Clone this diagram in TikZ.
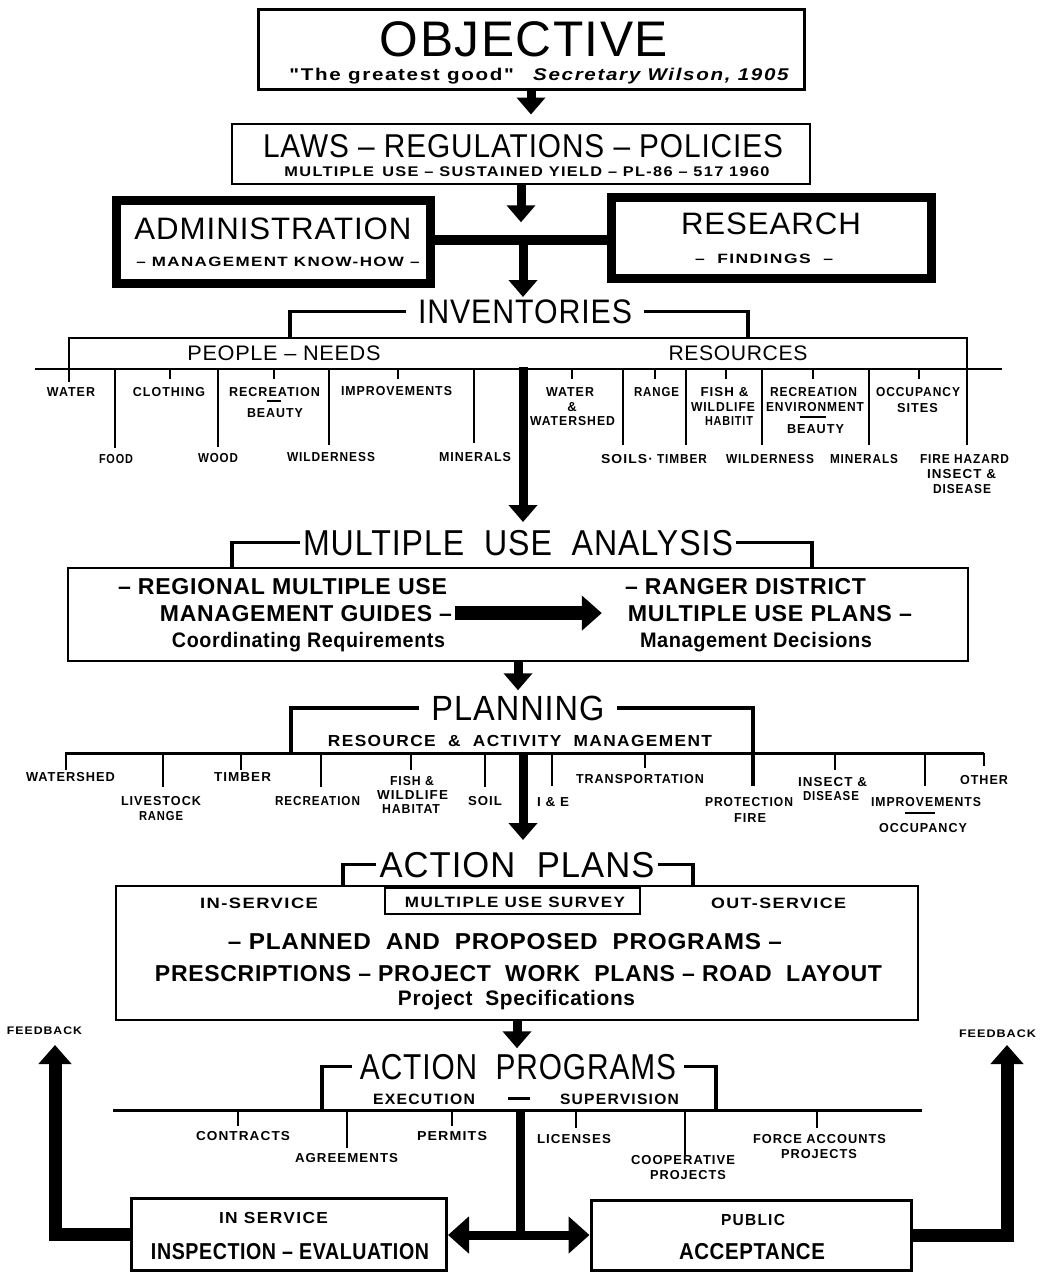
\documentclass[tikz,border=0pt]{standalone}
\usepackage{fontspec}
\usepackage{graphicx}
\setmainfont{Liberation Sans}
\newfontfamily\HD{Liberation Sans}[LetterSpace=3]
\newfontfamily\LB{Liberation Sans}[LetterSpace=8]
\usetikzlibrary{arrows.meta}
\newcommand\FSZ[1]{\fontsize{#1}{#1}\selectfont}
\newcommand\FW[2]{\resizebox{#1pt}{\height}{#2}}
\tikzset{
 hd/.style={anchor=base, inner sep=0pt, font=\HD\FSZ{#1}},
 lb/.style={anchor=base, inner sep=0pt, font=\LB\bfseries\FSZ{#1}},
 mb/.style={anchor=base, inner sep=0pt, font=\HD\bfseries\FSZ{#1}},
 bx/.style={draw, line width=#1, inner sep=0pt},
 ln/.style={line width=2.6pt},
 thin/.style={line width=1.6pt},
 br/.style={line width=3.5pt},
 fat/.style={line width=9pt, -{Triangle[width=28pt,length=17pt]}},
 fbk/.style={line width=13pt, -{Triangle[width=32pt,length=19pt]}},
 hub/.style={line width=9pt, -{Triangle[width=36pt,length=21pt]}},
}
\begin{document}
\begin{tikzpicture}[x=1pt,y=-1pt,line join=miter]
\useasboundingbox (0,0) rectangle (1049,1274);

% ---------------- OBJECTIVE
\node[bx=3pt, minimum width=546pt, minimum height=80pt] (obj) at (531,49) {};
\node[hd=50] (objT) at (524,56) {\FW{288}{OBJECTIVE}};
\node[lb=17] (objS) at (540,80) {\FW{501}{"The greatest good"\hspace{16pt}\textit{Secretary Wilson, 1905}}};
\draw[fat] (obj.south) -- ++(0,24);

% ---------------- LAWS
\node[bx=2.5pt, minimum width=578pt, minimum height=60pt] (laws) at (521,154) {};
\node[hd=33] (lawsT) at (523,157) {\FW{520}{LAWS – REGULATIONS – POLICIES}};
\node[lb=14] (lawsS) at (527,176) {\FW{485}{MULTIPLE\enspace USE – SUSTAINED YIELD – PL-86 – 517 1960}};
\draw[fat] (laws.south) -- ++(0,37);

% ---------------- ADMINISTRATION / RESEARCH
\node[bx=9pt, minimum width=314pt, minimum height=83pt] (adm) at (273,242) {};
\node[hd=31] (admT) at (273,239) {\FW{277}{ADMINISTRATION}};
\node[lb=13.5] (admS) at (278,266) {\FW{283}{– MANAGEMENT KNOW-HOW –}};
\node[bx=9pt, minimum width=320pt, minimum height=81pt] (res) at (771,237.5) {};
\node[hd=31] (resT) at (771,234) {\FW{180}{RESEARCH}};
\node[lb=13.5] (resS) at (764,263) {\FW{138}{–\ \ FINDINGS\ \ –}};
\coordinate (bar) at (523,240);
\draw[line width=10pt] (adm.east |- bar) -- (res.west |- bar);
\draw[fat] (bar) -- ++(0,57);

% ---------------- INVENTORIES
\node[hd=34] (inv) at (525,323) {\FW{214}{INVENTORIES}};
\draw[br] ([xshift=-12pt]inv.west) -| (290,338);
\draw[br] ([xshift=12pt]inv.east) -| (748,338);
\draw[ln] (69,382) |- (967,338) -- (967,445);
\draw[ln] (35,369) -- (1002,369);
\node[hd=21] (pn) at (284,360) {\FW{193}{PEOPLE – NEEDS}};
\node[hd=21] (rs) at (738,360) {\FW{139}{RESOURCES}};
% ticks
\foreach \x in {170,274,398,572,655,726,813,919} \draw[ln] (\x,369) -- (\x,379);
\foreach \x/\y in {115/448,218/447,329/445,474/443,623/445,686/445,762/445,869/445} \draw[ln] (\x,369) -- (\x,\y);
% people labels
\node[lb=13] (iWat) at (71,396) {\FW{48}{WATER}};
\node[lb=13] (iClo) at (169,396) {\FW{72}{CLOTHING}};
\node[lb=13] (iRec) at (274.5,396) {\FW{91}{RECREATION}};
\draw[thin] (267,401) -- (281,401);
\node[lb=13] (iBea) at (275,417) {\FW{56}{BEAUTY}};
\node[lb=13] (iImp) at (396.5,395) {\FW{111}{IMPROVEMENTS}};
\node[lb=13] (iFoo) at (116,463) {\FW{34}{FOOD}};
\node[lb=13] (iWoo) at (218,462) {\FW{40}{WOOD}};
\node[lb=13] (iWil) at (331,461) {\FW{88}{WILDERNESS}};
\node[lb=13] (iMin) at (475,461) {\FW{72}{MINERALS}};
% resource labels
\node[lb=13] (rWat1) at (570,396) {\FW{48}{WATER}};
\node[lb=13] (rWat2) at (572,411) {\&};
\node[lb=13] (rWat3) at (572.5,425) {\FW{85}{WATERSHED}};
\node[lb=13] (rRan) at (656.5,396) {\FW{45}{RANGE}};
\node[lb=13] (rFis1) at (724.5,396) {\FW{48}{FISH \&}};
\node[lb=13] (rFis2) at (723,411) {\FW{64}{WILDLIFE}};
\node[lb=13] (rFis3) at (729,425) {\FW{48}{HABITIT}};
\node[lb=13] (rRec1) at (813.5,396) {\FW{87}{RECREATION}};
\node[lb=13] (rRec2) at (815,411) {\FW{98}{ENVIRONMENT}};
\draw[thin] (800,417) -- (826,417);
\node[lb=13] (rRec3) at (815.5,433) {\FW{57}{BEAUTY}};
\node[lb=13] (rOcc1) at (918,396) {\FW{84}{OCCUPANCY}};
\node[lb=13] (rOcc2) at (917.5,412) {\FW{41}{SITES}};
\node[lb=13] (rSoi) at (627,463) {\FW{52}{SOILS·}};
\node[lb=13] (rTim) at (682,463) {\FW{50}{TIMBER}};
\node[lb=13] (rWil) at (770,463) {\FW{88}{WILDERNESS}};
\node[lb=13] (rMin) at (864,463) {\FW{68}{MINERALS}};
\node[lb=13] (rFir1) at (964.5,463) {\FW{89}{FIRE HAZARD}};
\node[lb=13] (rFir2) at (961.5,478) {\FW{69}{INSECT \&}};
\node[lb=13] (rFir3) at (962,493) {\FW{58}{DISEASE}};
\draw[fat] (523,367) -- (523,522);

% ---------------- MULTIPLE USE ANALYSIS
\node[hd=36] (mua) at (518,555) {\FW{430}{MULTIPLE\ \ USE\ \ ANALYSIS}};
\draw[br] ([xshift=-3pt]mua.west) -| (232,568);
\draw[br] ([xshift=3pt]mua.east) -| (812,568);
\node[bx=2.5pt, minimum width=900pt, minimum height=93pt] (muab) at (518,614.5) {};
\node[mb=23] (mL1) at (282.5,594) {\FW{329}{– REGIONAL MULTIPLE USE}};
\node[mb=23] (mL2) at (306,621) {\FW{292}{MANAGEMENT GUIDES –}};
\node[mb=21] (mL3) at (308.5,647) {\FW{273}{Coordinating Requirements}};
\node[mb=23] (mR1) at (745.5,594) {\FW{241}{– RANGER DISTRICT}};
\node[mb=23] (mR2) at (770,621) {\FW{284}{MULTIPLE USE PLANS –}};
\node[mb=21] (mR3) at (756,647) {\FW{232}{Management Decisions}};
\draw[line width=14pt, -{Triangle[width=34pt,length=20pt]}] ([xshift=3pt]mL2.east) -- ([xshift=-26pt]mR2.west);
\draw[fat] (muab.south) -- ++(0,28);

% ---------------- PLANNING
\node[hd=35] (plan) at (518,720) {\FW{173}{PLANNING}};
\draw[br] ([xshift=-12pt]plan.west) -| (291,753);
\draw[br] ([xshift=12pt]plan.east) -| (753,786);
\node[lb=16] (ram) at (520,746) {\FW{384}{RESOURCE\ \ \&\ \ ACTIVITY\ \ MANAGEMENT}};
\draw[line width=3pt] (65,753) -- (984,753);
\foreach \x/\y in {66/770,163/787,241/770,321/787,411/770,485/787,552/786,645/768,835/770,925/786,984/766} \draw[ln] (\x,753) -- (\x,\y);
\node[lb=13] (pWat) at (70.5,781) {\FW{89}{WATERSHED}};
\node[lb=13] (pLiv1) at (161,805) {\FW{80}{LIVESTOCK}};
\node[lb=13] (pLiv2) at (161,820) {\FW{44}{RANGE}};
\node[lb=13] (pTim) at (242.5,781) {\FW{57}{TIMBER}};
\node[lb=13] (pRec) at (317.5,805) {\FW{85}{RECREATION}};
\node[lb=13] (pFis1) at (412,785) {\FW{44}{FISH \&}};
\node[lb=13] (pFis2) at (412.5,799) {\FW{71}{WILDLIFE}};
\node[lb=13] (pFis3) at (411,813) {\FW{58}{HABITAT}};
\node[lb=13] (pSoi) at (485,805) {\FW{34}{SOIL}};
\node[lb=13] (pIE) at (553,806) {\FW{32}{I \& E}};
\node[lb=13] (pTra) at (640,783) {\FW{128}{TRANSPORTATION}};
\node[lb=13] (pPro1) at (749,806) {\FW{88}{PROTECTION}};
\node[lb=13] (pPro2) at (750,822) {\FW{32}{FIRE}};
\node[lb=13] (pIns1) at (832.5,786) {\FW{69}{INSECT \&}};
\node[lb=13] (pIns2) at (831,800) {\FW{56}{DISEASE}};
\node[lb=13] (pImp) at (926,806) {\FW{110}{IMPROVEMENTS}};
\draw[thin] (905,813) -- (935,813);
\node[lb=13] (pOcc) at (923,832) {\FW{88}{OCCUPANCY}};
\node[lb=13] (pOth) at (984,784) {\FW{48}{OTHER}};
\draw[fat] (523,753) -- (523,840);

% ---------------- ACTION PLANS
\node[hd=36] (ap) at (517,877) {\FW{275}{ACTION\ \ PLANS}};
\draw[br] ([xshift=-3pt]ap.west) -| (343,886);
\draw[br] ([xshift=3pt]ap.east) -| (693,886);
\node[bx=2.5pt, minimum width=802pt, minimum height=134pt] (apb) at (517,953) {};
\node[bx=2.5pt, minimum width=255pt, minimum height=26pt] (musb) at (512.5,901) {};
\node[lb=15] (aIn) at (259,908) {\FW{118}{IN-SERVICE}};
\node[lb=15] (aMus) at (515,907) {\FW{220}{MULTIPLE USE SURVEY}};
\node[lb=15] (aOut) at (778.5,908) {\FW{135}{OUT-SERVICE}};
\node[mb=23] (aL1) at (505,949) {\FW{554}{– PLANNED\ \ AND\ \ PROPOSED\ \ PROGRAMS –}};
\node[mb=23] (aL2) at (518.5,981) {\FW{727}{PRESCRIPTIONS – PROJECT\ \ WORK\ \ PLANS – ROAD\ \ LAYOUT}};
\node[mb=21] (aL3) at (516.5,1005) {\FW{237}{Project\ \ Specifications}};
\draw[fat] (apb.south) -- ++(0,27);

% ---------------- ACTION PROGRAMS
\node[hd=36] (apr) at (518,1079) {\FW{316}{ACTION\ \ PROGRAMS}};
\draw[br] ([xshift=-8pt]apr.west) -| (322,1110);
\draw[br] ([xshift=8pt]apr.east) -| (716,1110);
\node[lb=15] (eExe) at (424,1104) {\FW{102}{EXECUTION}};
\node[lb=15] (eDash) at (519,1104) {\rule[4pt]{22pt}{2.8pt}};
\node[lb=15] (eSup) at (619.5,1104) {\FW{119}{SUPERVISION}};
\draw[line width=3pt] (113,1110) -- (922,1110);
\foreach \x/\y in {238/1126,347/1148,452/1126,576/1128,685/1155,817/1128} \draw[ln] (\x,1110) -- (\x,\y);
\node[lb=13] (gCon) at (243,1140) {\FW{94}{CONTRACTS}};
\node[lb=13] (gAgr) at (346.5,1162) {\FW{103}{AGREEMENTS}};
\node[lb=13] (gPer) at (452,1140) {\FW{70}{PERMITS}};
\node[lb=13] (gLic) at (574,1143) {\FW{74}{LICENSES}};
\node[lb=13] (gCoo1) at (683,1164) {\FW{104}{COOPERATIVE}};
\node[lb=13] (gCoo2) at (688,1179) {\FW{76}{PROJECTS}};
\node[lb=13] (gFor1) at (819.5,1143) {\FW{133}{FORCE ACCOUNTS}};
\node[lb=13] (gFor2) at (819,1158) {\FW{76}{PROJECTS}};

% ---------------- bottom boxes
\node[bx=3pt, minimum width=315pt, minimum height=72pt] (insp) at (289,1234) {};
\node[lb=16] (inT1) at (273.5,1223) {\FW{109}{IN SERVICE}};
\node[mb=23] (inT2) at (290,1259) {\FW{278}{INSPECTION – EVALUATION}};
\node[bx=3pt, minimum width=320pt, minimum height=70pt] (pub) at (751,1235) {};
\node[lb=16] (puT1) at (753,1225) {\FW{64}{PUBLIC}};
\node[mb=23] (puT2) at (752,1259) {\FW{146}{ACCEPTANCE}};

\coordinate (apj) at (520,1110);
\coordinate (hub) at (520,1235);
\draw[line width=9pt] (apj) -- (hub);
\draw[hub] ([xshift=4.5pt]hub) -- (hub -| insp.east);
\draw[hub] ([xshift=-4.5pt]hub) -- (hub -| pub.west);

% feedback
\draw[fbk] (insp.west) -| (55,1045);
\draw[fbk] (pub.east) -| (1007,1045);
\node[lb=11] (fbL) at (44.5,1034) {\FW{75}{FEEDBACK}};
\node[lb=11] (fbR) at (997.5,1037) {\FW{77}{FEEDBACK}};
\end{tikzpicture}
\end{document}
